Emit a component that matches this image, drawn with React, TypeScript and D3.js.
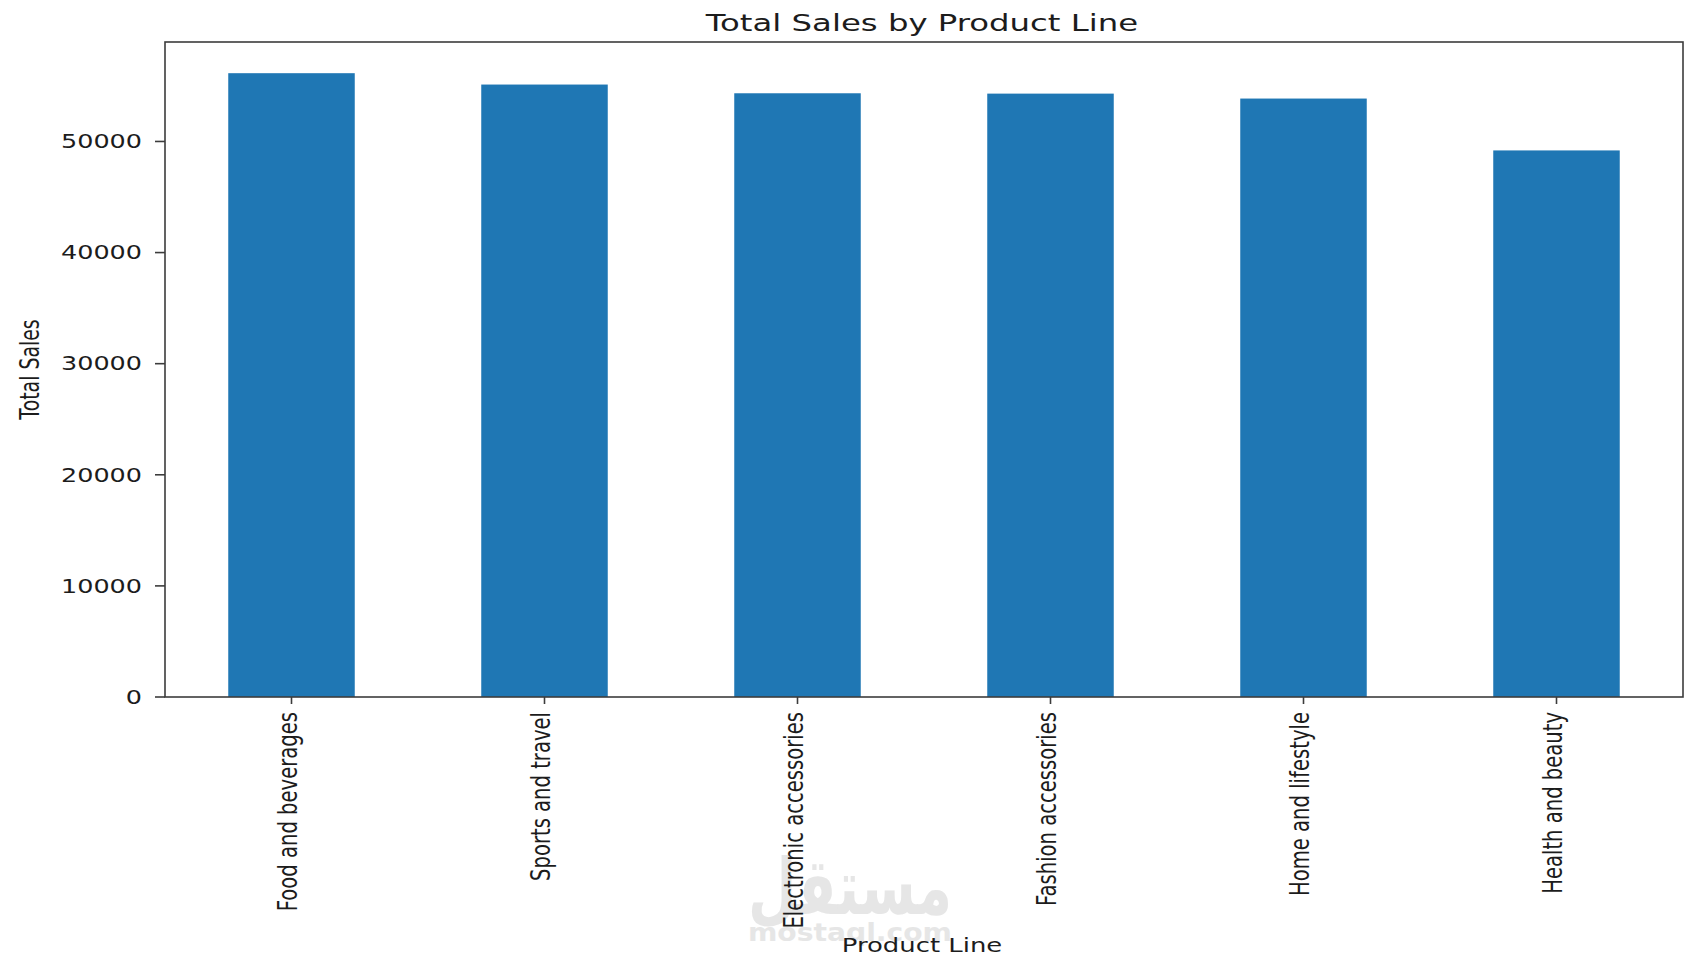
import React from "react";
import * as d3 from "d3";

const categories = [
  "Food and beverages",
  "Sports and travel",
  "Electronic accessories",
  "Fashion accessories",
  "Home and lifestyle",
  "Health and beauty",
];
const totalSales = [56144.84, 55122.83, 54337.53, 54305.9, 53861.91, 49193.74];
const yTicks = [0, 10000, 20000, 30000, 40000, 50000];
const titleText = "Total Sales by Product Line";
const xLabelText = "Product Line";
const yLabelText = "Total Sales";

const W = 1700;
const H = 970;
const left = 165;
const right = 1683;
const top = 42;
const bottom = 697;
const SX = 1.37;
const FONT = "DejaVu Sans, sans-serif";
const TEXT = "#1c1c1c";
const SPINE = "#3c3c3c";

export default function App() {
  const x = d3
    .scaleBand<string>()
    .domain(categories)
    .range([left, right])
    .paddingInner(0.5)
    .paddingOuter(0.25);
  const yMax = d3.max(totalSales)! * 1.05;
  const y = d3.scaleLinear().domain([0, yMax]).range([bottom, top]);

  return (
    <svg
      width={W}
      height={H}
      viewBox={`0 0 ${W} ${H}`}
      style={{ position: "absolute", left: 0, top: 0, background: "#fff" }}
    >
      <rect x={0} y={0} width={W} height={H} fill="#fff" />
      {/* bars */}
      {categories.map((c, i) => (
        <rect
          key={c}
          x={x(c)!}
          y={y(totalSales[i])}
          width={x.bandwidth()}
          height={y(0) - y(totalSales[i])}
          fill="#1f77b4"
        />
      ))}
      {/* spines */}
      <rect
        x={left}
        y={top}
        width={right - left}
        height={bottom - top}
        fill="none"
        stroke={SPINE}
        strokeWidth={1.6}
      />
      {/* y ticks */}
      {yTicks.map((t) => (
        <g key={t}>
          <line x1={left - 10} x2={left} y1={y(t)} y2={y(t)} stroke={SPINE} strokeWidth={1.6} />
          <text
            transform={`translate(142,${y(t) + 6.8}) scale(${SX},1)`}
            textAnchor="end"
            fontFamily={FONT}
            fontSize={18.6}
            fill={TEXT}
          >
            {String(t)}
          </text>
        </g>
      ))}
      {/* watermark */}
      <g opacity={0.9}>
        <text
          x={850}
          y={914}
          textAnchor="middle"
          fontFamily="DejaVu Sans, sans-serif"
          fontWeight="bold"
          fontSize={78}
          fill="#e4e4e4"
          textLength={204}
          lengthAdjust="spacingAndGlyphs"
          direction="rtl"
        >
          مستقل
        </text>
        <text
          x={748}
          y={941}
          fontFamily="DejaVu Sans, sans-serif"
          fontWeight="bold"
          fontSize={24}
          fill="#e4e4e4"
          textLength={204}
          lengthAdjust="spacingAndGlyphs"
        >
          mostaql.com
        </text>
      </g>
      {/* x ticks */}
      {categories.map((c) => {
        const cx = x(c)! + x.bandwidth() / 2;
        return (
          <g key={c}>
            <line x1={cx} x2={cx} y1={bottom} y2={bottom + 7} stroke={SPINE} strokeWidth={1.6} />
            <text
              transform={`translate(${cx + 5.5},712) scale(${SX},1) rotate(-90)`}
              textAnchor="end"
              fontFamily={FONT}
              fontSize={19.6}
              fill={TEXT}
            >
              {c}
            </text>
          </g>
        );
      })}
      {/* title */}
      <text
        transform={`translate(${(left + right) / 2 - 2},31) scale(${SX},1)`}
        textAnchor="middle"
        fontFamily={FONT}
        fontSize={23.6}
        fill={TEXT}
      >
        {titleText}
      </text>
      {/* x label */}
      <text
        transform={`translate(922,952) scale(${SX},1)`}
        textAnchor="middle"
        fontFamily={FONT}
        fontSize={18.9}
        fill={TEXT}
      >
        {xLabelText}
      </text>
      {/* y label */}
      <text
        transform={`translate(39,${(top + bottom) / 2}) scale(${SX},1) rotate(-90)`}
        textAnchor="middle"
        fontFamily={FONT}
        fontSize={18.9}
        fill={TEXT}
      >
        {yLabelText}
      </text>
    </svg>
  );
}
